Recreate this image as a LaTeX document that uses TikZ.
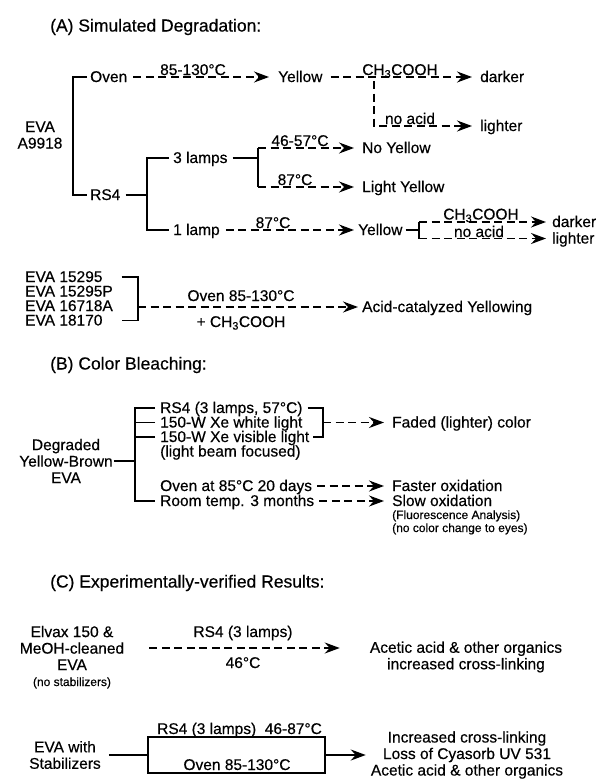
\documentclass[tikz,border=0pt]{standalone}
\usepackage{fontspec}
\setmainfont{Liberation Sans}[FakeBold=0.4]
\usetikzlibrary{arrows.meta}
\newcommand\bodyf{\fontsize{15.5}{16.5}\selectfont}
\newcommand\ttlf{\fontsize{17.5}{20}\selectfont}
\newcommand\smf{\fontsize{12}{13}\selectfont}
\tikzset{
  rowtxt/.style={inner sep=0pt, font=\bodyf, text height=10.5pt, text depth=0.5pt},
  labtxt/.style={inner sep=0pt, font=\bodyf, anchor=base},
  multxt/.style={inner sep=0pt, font=\bodyf, align=center},
  smtxt/.style={inner sep=0pt, font=\smf, text height=8.5pt, text depth=0.5pt},
  titletxt/.style={inner sep=0pt, font=\ttlf, anchor=west},
  solidln/.style={line width=1.8pt},
  dashln/.style={line width=1.8pt, dash pattern=on 8pt off 4.5pt},
  arrtip/.style={-{Stealth[length=15pt,width=11pt,inset=5pt]}}
}
\begin{document}
\begin{tikzpicture}[x=1pt,y=-1pt]
\fill[white] (0,0) rectangle (599,780);
\useasboundingbox (0,0) rectangle (599,780);

% ================= (A) =================
\node[titletxt] (tA) at (50,27) {(A) Simulated Degradation:};
\node[multxt] (eva) at (40,135) {EVA\\A9918};
\node[rowtxt,anchor=west] (oven) at (90,77) {Oven};
\node[rowtxt,anchor=west] (rs4) at (90,195) {RS4};
\draw[solidln] ([xshift=-3pt]oven.west) -| (73,135) |- ([xshift=-3pt]rs4.west);

\node[rowtxt,anchor=west] (yel1) at (278,77) {Yellow};
\draw[dashln,arrtip] ([xshift=6pt]oven.east) -- ([xshift=-9pt]yel1.west);
\node[labtxt] (l85) at (193,75) {85-130°C};
\node[rowtxt,anchor=west] (dark1) at (480,77) {darker};
\draw[dashln,arrtip] ([xshift=8pt]yel1.east) -- ([xshift=-8pt]dark1.west);
\node[labtxt] (lch1) at (400,75) {CH\textsubscript{3}COOH};
\coordinate (v1) at (374,81);
\node[rowtxt,anchor=west] (lig1) at (480,126) {lighter};
\draw[dashln,arrtip] (v1) |- ([xshift=-8pt]lig1.west);
\node[labtxt] (lna1) at (410,124) {no acid};

\coordinate (b2) at (147,195);
\node[rowtxt,anchor=west] (l3) at (173,158) {3 lamps};
\node[rowtxt,anchor=west] (l1) at (173,230) {1 lamp};
\draw[solidln] ([xshift=5pt]rs4.east) -- (b2);
\draw[solidln] ([xshift=-4pt]l3.west) -| (b2) |- ([xshift=-4pt]l1.west);
\coordinate (b3t) at (258,148);
\coordinate (b3b) at (258,187);
\draw[solidln] ([xshift=5pt]l3.east) -- (b3t |- l3.east);
\draw[solidln] (b3t) -- (b3b);
\node[rowtxt,anchor=west] (noy) at (362,148) {No Yellow};
\node[rowtxt,anchor=west] (ly) at (362,187) {Light Yellow};
\draw[dashln,arrtip] (b3t) -- ([xshift=-8pt]noy.west);
\draw[dashln,arrtip] (b3b) -- ([xshift=-8pt]ly.west);
\node[labtxt] (l4657) at (300,146) {46-57°C};
\node[labtxt] (l87a) at (295,185) {87°C};

\node[rowtxt,anchor=west] (yel2) at (358,230) {Yellow};
\draw[dashln,arrtip] ([xshift=6pt]l1.east) -- ([xshift=-4pt]yel2.west);
\node[labtxt] (l87b) at (273,228) {87°C};
\coordinate (b4t) at (419,222);
\coordinate (b4b) at (419,238.5);
\draw[solidln] ([xshift=3pt]yel2.east) -- (b4t |- yel2.east);
\draw[solidln] (b4t) -- (b4b);
\node[rowtxt,anchor=west] (dark2) at (552,222) {darker};
\node[rowtxt,anchor=west] (lig2) at (552,238.5) {lighter};
\draw[dashln,arrtip] (b4t) -- ([xshift=-6pt]dark2.west);
\draw[dashln,arrtip] (b4b) -- ([xshift=-6pt]lig2.west);
\node[labtxt] (lch2) at (481,219.5) {CH\textsubscript{3}COOH};
\node[labtxt] (lna2) at (479,237) {no acid};

\node[rowtxt,anchor=west] (e1) at (25,277) {EVA 15295};
\node[rowtxt,anchor=west] (e2) at (25,291.5) {EVA 15295P};
\node[rowtxt,anchor=west] (e3) at (25,306) {EVA 16718A};
\node[rowtxt,anchor=west] (e4) at (25,320.5) {EVA 18170};
\coordinate (b5t) at (138,277);
\coordinate (b5b) at (138,320.5);
\coordinate (b5m) at (138,307);
\draw[solidln] ([xshift=19pt]e1.east) -- (b5t) -- (b5b) -- ([xshift=19pt]e4.east);
\node[rowtxt,anchor=west] (acy) at (362,307) {Acid-catalyzed Yellowing};
\draw[dashln,arrtip] (b5m) -- ([xshift=-4pt]acy.west);
\node[labtxt] (lov) at (241,301) {Oven 85-130°C};
\node[rowtxt] (lch3) at (241,322) {+ CH\textsubscript{3}COOH};

% ================= (B) =================
\node[titletxt] (tB) at (50,365) {(B) Color Bleaching:};
\node[multxt] (deg) at (66,461) {Degraded\\Yellow-Brown\\EVA};
\node[rowtxt,anchor=west] (r1) at (160,408) {RS4 (3 lamps, 57°C)};
\node[rowtxt,anchor=west] (r2) at (160,422.5) {150-W Xe white light};
\node[rowtxt,anchor=west] (r3) at (160,437) {150-W Xe visible light};
\node[rowtxt,anchor=west] (r4) at (160,451.5) {(light beam focused)};
\node[rowtxt,anchor=west] (r5) at (160,486) {Oven at 85°C 20 days};
\node[rowtxt,anchor=west] (r6) at (160,501) {Room temp. 3 months};
\coordinate (b6t) at (135,408);
\coordinate (b6b) at (135,501);
\draw[solidln] ([xshift=-5pt]r1.west) -- (b6t) -- (b6b) -- ([xshift=-5pt]r6.west);
\draw[solidln] ([xshift=-5pt]r2.west) -- (b6t |- r2.west);
\draw[solidln] ([xshift=-5pt]r3.west) -- (b6t |- r3.west);
\draw[solidln] ([xshift=1pt]deg.east) -- (b6t |- deg.east);
\coordinate (b7t) at (323,408);
\coordinate (b7b) at (323,437);
\draw[solidln] ([xshift=5pt]r1.east) -- (b7t) -- (b7b) -- ([xshift=4pt]r3.east);
\node[rowtxt,anchor=west] (fad) at (392,422.5) {Faded (lighter) color};
\draw[dashln,arrtip] (b7t |- fad.west) -- ([xshift=-8pt]fad.west);
\node[rowtxt,anchor=west] (fast) at (392,486) {Faster oxidation};
\node[rowtxt,anchor=west] (slow) at (392,501) {Slow oxidation};
\draw[dashln,arrtip] ([xshift=5pt]r5.east) -- ([xshift=-8pt]fast.west);
\draw[dashln,arrtip] ([xshift=5pt]r6.east) -- ([xshift=-8pt]slow.west);
\node[smtxt,anchor=west] (fl1) at (392,515) {(Fluorescence Analysis)};
\node[smtxt,anchor=west] (fl2) at (392,528) {(no color change to eyes)};

% ================= (C) =================
\node[titletxt] (tC) at (50,583) {(C) Experimentally-verified Results:};
\node[multxt] (elv) at (72,648) {Elvax 150 \&\\MeOH-cleaned\\EVA};
\node[smtxt] (nost) at (72,682) {(no stabilizers)};
\node[multxt] (aa) at (466,657) {Acetic acid \& other organics\\increased cross-linking};
\draw[dashln,arrtip] ([xshift=25pt]elv.east) -- ([xshift=-30pt]aa.west |- elv.east);
\node[rowtxt] (lrs) at (243,632) {RS4 (3 lamps)};
\node[rowtxt] (l46) at (243,663) {46°C};

\node[multxt] (evs) at (65,755) {EVA with\\Stabilizers};
\node[draw, solidln, minimum width=177pt, minimum height=36pt, inner sep=0pt] (box) at (236.5,755) {};
\draw[solidln] ([xshift=8pt]box.west -| evs.east) -- (box.west);
\node[multxt] (res) at (467,755) {Increased cross-linking\\Loss of Cyasorb UV 531\\Acetic acid \& other organics};
\draw[solidln,arrtip] (box.east) -- ([xshift=-5pt]res.west);
\node[labtxt, anchor=base west] (lrs2) at (157,734) {RS4 (3 lamps)\ \ 46-87°C};
\node[labtxt] (lov2) at (237,770) {Oven 85-130°C};
\end{tikzpicture}
\end{document}
